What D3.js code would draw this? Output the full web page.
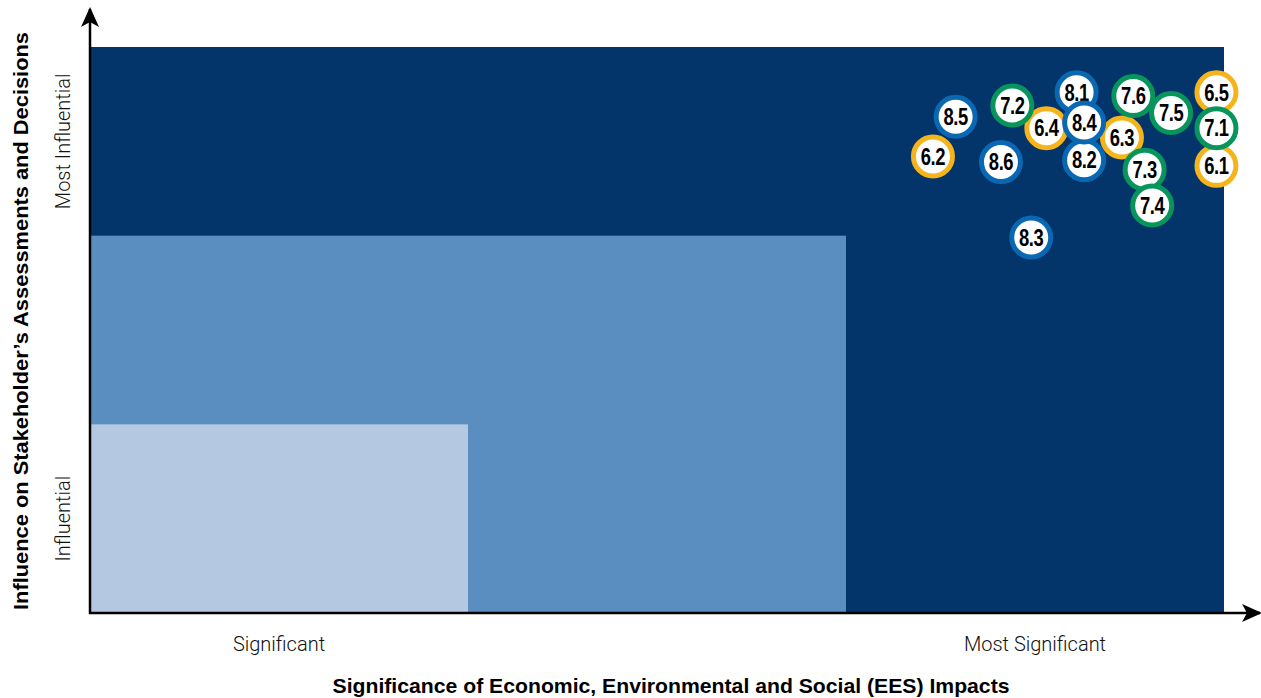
<!DOCTYPE html>
<html>
<head>
<meta charset="utf-8">
<script src="https://cdn.jsdelivr.net/npm/d3@7"></script>
<style>
  html, body { margin: 0; padding: 0; background: #fff; }
  svg { display: block; }
</style>
</head>
<body>
<div id="chart"></div>
<script>
// topics, grouped by colour ring
const topics  = ['6.1','6.2','6.3','6.4','6.5','7.1','7.2','7.3','7.4','7.5','7.6','8.1','8.2','8.3','8.4','8.5','8.6'];
const groups  = ['6','6','6','6','6','7','7','7','7','7','7','8','8','8','8','8','8'];
// significance (x) and influence (y), on a 0-3 scale (thirds of each axis)
const sigVals = [2.98, 2.23, 2.73, 2.53, 2.98, 2.98, 2.44, 2.79, 2.81, 2.86, 2.76, 2.61, 2.63, 2.49, 2.63, 2.29, 2.41];
const infVals = [2.37, 2.42, 2.52, 2.57, 2.76, 2.57, 2.69, 2.35, 2.16, 2.65, 2.74, 2.76, 2.40, 1.99, 2.60, 2.63, 2.39];

// tier bands (nested rectangles from the origin)
const tiers      = [3, 2, 1];
const tierColors = ['#03346a', '#5b8ec0', '#b4c9e1'];

const xTickVals = [0.5, 2.5];
const xTickText = ['Significant', 'Most Significant'];
const yTickVals = [0.5, 2.5];
const yTickText = ['Influential', 'Most Influential'];

const ringColors = { '6': '#f5b41c', '7': '#08955c', '8': '#0a68b2' };

const W = 1261, H = 698;
const margin = { top: 47, right: 37, bottom: 85, left: 90 };
const width  = W - margin.left - margin.right;
const height = H - margin.top - margin.bottom;

const svg = d3.select('#chart').append('svg')
  .attr('width', W)
  .attr('height', H);

const g = svg.append('g')
  .attr('transform', `translate(${margin.left},${margin.top})`);

const x = d3.scaleLinear().domain([0, 3]).range([0, width]);
const y = d3.scaleLinear().domain([0, 3]).range([height, 0]);

g.selectAll('.tier')
  .data(tiers)
  .join('rect')
  .attr('class', 'tier')
  .attr('x', 0)
  .attr('y', d => y(d))
  .attr('width', d => x(d))
  .attr('height', d => height - y(d))
  .attr('fill', (d, i) => tierColors[i]);

// axis lines with arrowheads
const defs = svg.append('defs');
defs.append('marker')
  .attr('id', 'arrow')
  .attr('viewBox', '0 0 20 18')
  .attr('refX', 18)
  .attr('refY', 9)
  .attr('markerWidth', 20)
  .attr('markerHeight', 18)
  .attr('markerUnits', 'userSpaceOnUse')
  .attr('orient', 'auto')
  .append('path')
  .attr('d', 'M0,0 L20,9 L0,18 L5,9 Z')
  .attr('fill', '#000');

g.append('line')
  .attr('x1', 0).attr('y1', height + 1)
  .attr('x2', 0).attr('y2', -38)
  .attr('stroke', '#000')
  .attr('stroke-width', 2.5)
  .attr('marker-end', 'url(#arrow)');

g.append('line')
  .attr('x1', -1).attr('y1', height)
  .attr('x2', width + 36).attr('y2', height)
  .attr('stroke', '#000')
  .attr('stroke-width', 2.5)
  .attr('marker-end', 'url(#arrow)');

const lightFont = 'Roboto, "Liberation Sans", sans-serif';
const boldFont  = '"Liberation Sans", Arial, sans-serif';

g.selectAll('.xtick')
  .data(xTickVals)
  .join('text')
  .attr('class', 'xtick')
  .attr('x', d => x(d))
  .attr('y', height + 38)
  .attr('text-anchor', 'middle')
  .attr('font-family', lightFont)
  .attr('font-weight', 300)
  .attr('font-size', 20)
  .attr('fill', '#111')
  .text((d, i) => xTickText[i]);

g.selectAll('.ytick')
  .data(yTickVals)
  .join('text')
  .attr('class', 'ytick')
  .attr('transform', d => `translate(-20,${y(d)}) rotate(-90)`)
  .attr('text-anchor', 'middle')
  .attr('font-family', lightFont)
  .attr('font-weight', 300)
  .attr('font-size', 20)
  .attr('fill', '#111')
  .text((d, i) => yTickText[i]);

svg.append('text')
  .attr('x', 671)
  .attr('y', H - 5)
  .attr('text-anchor', 'middle')
  .attr('font-family', boldFont)
  .attr('font-weight', 700)
  .attr('font-size', 21)
  .attr('textLength', 677)
  .attr('lengthAdjust', 'spacingAndGlyphs')
  .attr('fill', '#000')
  .text('Significance of Economic, Environmental and Social (EES) Impacts');

svg.append('text')
  .attr('transform', `translate(28,${(32 + 610) / 2}) rotate(-90)`)
  .attr('text-anchor', 'middle')
  .attr('font-family', boldFont)
  .attr('font-weight', 700)
  .attr('font-size', 21)
  .attr('textLength', 578)
  .attr('lengthAdjust', 'spacingAndGlyphs')
  .attr('fill', '#000')
  .text('Influence on Stakeholder\u2019s Assessments and Decisions');

const pts = topics.map((t, i) => ({ id: t, grp: groups[i], sx: sigVals[i], iy: infVals[i] }));

const nodes = g.selectAll('.topic')
  .data(pts)
  .join('g')
  .attr('class', 'topic')
  .attr('transform', d => `translate(${x(d.sx)},${y(d.iy)})`);

nodes.append('circle')
  .attr('r', 19.5)
  .attr('fill', '#fff')
  .attr('stroke', d => ringColors[d.grp])
  .attr('stroke-width', 5);

nodes.append('text')
  .attr('text-anchor', 'middle')
  .attr('dy', '0.36em')
  .attr('transform', 'scale(0.8,1)')
  .attr('font-family', boldFont)
  .attr('font-weight', 700)
  .attr('font-size', 23)
  .attr('letter-spacing', -0.5)
  .attr('fill', '#000')
  .text(d => d.id);
</script>
</body>
</html>
